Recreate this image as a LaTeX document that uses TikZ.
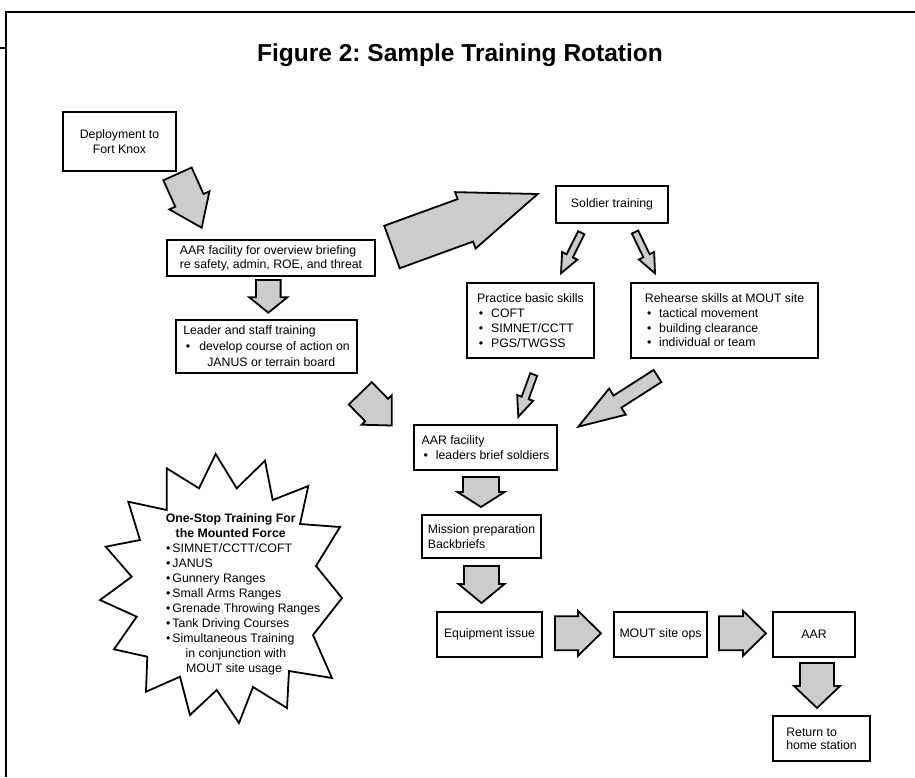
\documentclass[tikz,border=0pt]{standalone}
\usepackage{fontspec}
\setmainfont{Liberation Sans}
\usetikzlibrary{calc}
\frenchspacing
\newcommand\boxfont{\fontsize{12.3}{15}\selectfont}
\newcommand\bfs[1]{\fontsize{12.3}{#1}\selectfont}
\newcommand\bul[2]{\hspace*{#1}\makebox[#2][l]{•}}
% block arrow: start, end, shaft half width, head half width, head length
\newcommand\blockarrow[5]{%
  \coordinate (#1#2hb) at ($(#2)!#5!(#1)$);
  \draw[blkarrow] ($(#1)!#3!90:(#2)$) -- ($(#1#2hb)!#3!90:(#2)$) -- ($(#1#2hb)!#4!90:(#2)$) -- (#2)
    -- ($(#1#2hb)!#4!-90:(#2)$) -- ($(#1#2hb)!#3!-90:(#2)$) -- ($(#1)!#3!-90:(#2)$) -- cycle;
}
\begin{document}
\begin{tikzpicture}[x=1pt,y=-1pt,
  box/.style={draw, line width=2pt, inner sep=0pt, align=left, font=\boxfont, fill=white},
  blkarrow/.style={draw, line width=1.8pt, fill=gray!40, line join=miter},
  frame/.style={line width=1.8pt},
  burst/.style={draw, line width=1.8pt, fill=white, line join=miter}]
\useasboundingbox (0,0) rectangle (915,777);

% frame
\draw[frame] (6,777) -- (6,12) -- (915,12);
\draw[frame] (0,48) -- (6,48);

% title
\node[font=\fontsize{24.5}{29}\selectfont\bfseries, anchor=base, inner sep=0pt] (title) at (460,61.7) {Figure 2: Sample Training Rotation};

% boxes
\node[box, align=center, font=\bfs{15.7}, minimum width=113pt, minimum height=59pt] (dep) at (119.5,141.5) {Deployment to\\Fort Knox};
\node[box, font=\bfs{14}, minimum width=208pt, minimum height=36pt] (aaro) at (271,258) {AAR facility for overview briefing\\re safety, admin, ROE, and threat};
\node[box, font=\bfs{16}, minimum width=181pt, minimum height=53pt] (lead) at (266.5,346.5) {Leader and staff training\\\bul{2.7pt}{13.3pt}develop course of action on\\\hspace*{24pt}JANUS or terrain board};
\node[box, align=center, minimum width=112pt, minimum height=37pt] (sold) at (612,204.5) {Soldier training};
\node[box, font=\bfs{15.2}, minimum width=127pt, minimum height=75pt] (prac) at (530.5,320.5) {Practice basic skills\\\bul{1.7pt}{12.3pt}COFT\\\bul{1.7pt}{12.3pt}SIMNET/CCTT\\\bul{1.7pt}{12.3pt}PGS/TWGSS};
\node[box, font=\bfs{14.7}, minimum width=187pt, minimum height=75pt] (reh) at (724.5,320.5) {Rehearse skills at MOUT site\\\bul{2.3pt}{12pt}tactical movement\\\bul{2.3pt}{12pt}building clearance\\\bul{2.3pt}{12pt}individual or team};
\node[box, font=\bfs{15.7}, minimum width=143pt, minimum height=45pt] (aarf) at (485.5,447.5) {AAR facility\\\bul{2pt}{12.3pt}leaders brief soldiers};
\node[box, minimum width=119pt, minimum height=43pt] (miss) at (481.5,536.5) {Mission preparation\\Backbriefs};
\node[box, align=center, minimum width=105pt, minimum height=45pt] (equip) at (489.5,634.5) {Equipment issue};
\node[box, align=center, minimum width=93pt, minimum height=45pt] (mout) at (660.5,634.5) {MOUT site ops};
\node[box, align=center, minimum width=82pt, minimum height=45pt] (aar) at (814,634.5) {AAR};
\node[box, font=\bfs{13.3}, minimum width=97pt, minimum height=45pt] (ret) at (821.5,738.5) {Return to\\home station};

% arrow end points
\coordinate (a1s) at (177.5,173.9); \coordinate (a1e) at (201.7,227.7);
\coordinate (a2s) at (392,247);     \coordinate (a2e) at (537.7,194);
\coordinate (a3s) at (268.3,280);   \coordinate (a3e) at (268.3,312.7);
\coordinate (a4s) at (360.3,393.3); \coordinate (a4e) at (391.7,425.5);
\coordinate (a5s) at (581.3,232.7); \coordinate (a5e) at (561,273.3);
\coordinate (a6s) at (635,232);     \coordinate (a6e) at (655,273.3);
\coordinate (a7s) at (533.7,374.5); \coordinate (a7e) at (518.3,416.7);
\coordinate (a8s) at (657.5,376);   \coordinate (a8e) at (578.3,426.7);
\coordinate (a9s) at (481,477);     \coordinate (a9e) at (481,507);
\coordinate (a10s) at (481.5,566);  \coordinate (a10e) at (481.5,603);
\coordinate (a11s) at (555,633.3);  \coordinate (a11e) at (601,633.3);
\coordinate (a12s) at (719,633.3);  \coordinate (a12e) at (766,633.3);
\coordinate (a13s) at (817,663);    \coordinate (a13e) at (817,708);

\blockarrow{a1s}{a1e}{15.5pt}{22pt}{30pt}
\blockarrow{a2s}{a2e}{22.6pt}{30pt}{77pt}
\blockarrow{a3s}{a3e}{12.3pt}{19pt}{15.4pt}
\blockarrow{a4s}{a4e}{16pt}{21pt}{21.6pt}
\blockarrow{a5s}{a5e}{3.5pt}{8.5pt}{19.5pt}
\blockarrow{a6s}{a6e}{3.5pt}{8.5pt}{19.5pt}
\blockarrow{a7s}{a7e}{3.7pt}{8.5pt}{20pt}
\blockarrow{a8s}{a8e}{7.2pt}{15.5pt}{46.5pt}
\blockarrow{a9s}{a9e}{18pt}{23.5pt}{15pt}
\blockarrow{a10s}{a10e}{17.5pt}{23pt}{19pt}
\blockarrow{a11s}{a11e}{17pt}{22.5pt}{23pt}
\blockarrow{a12s}{a12e}{17pt}{22.5pt}{23pt}
\blockarrow{a13s}{a13e}{17pt}{23pt}{22pt}

% starburst
\draw[burst] (215.7,454) -- (236.7,488.3) -- (265,460.7) -- (272.7,500) -- (308.3,486) -- (300,524)
  -- (340,527) -- (316,566) -- (342,598) -- (313,635) -- (332,678) -- (289,671) -- (287,708)
  -- (253,687) -- (239,723) -- (216.7,690) -- (190,715) -- (180,676.7) -- (146,691.7)
  -- (147.3,656.7) -- (114,649.3) -- (136.7,616.7) -- (100,600) -- (131.7,576.7)
  -- (105.7,546.7) -- (140,540) -- (128.3,501.7) -- (166.7,510) -- (166.7,468.3)
  -- (199,488.3) -- cycle;
\node[anchor=north west, inner sep=0pt, align=left, font=\boxfont] (bursttext) at (166,513.7) {%
\makebox[129pt]{\bfseries One-Stop Training For}\\
\makebox[129pt]{\bfseries the Mounted Force}\\
•\hspace{2pt}SIMNET/CCTT/COFT\\
•\hspace{2pt}JANUS\\
•\hspace{2pt}Gunnery Ranges\\
•\hspace{2pt}Small Arms Ranges\\
•\hspace{2pt}Grenade Throwing Ranges\\
•\hspace{2pt}Tank Driving Courses\\
•\hspace{2pt}Simultaneous Training\\
\hspace*{19.5pt}in conjunction with\\
\hspace*{20pt}MOUT site usage};
\end{tikzpicture}
\end{document}
